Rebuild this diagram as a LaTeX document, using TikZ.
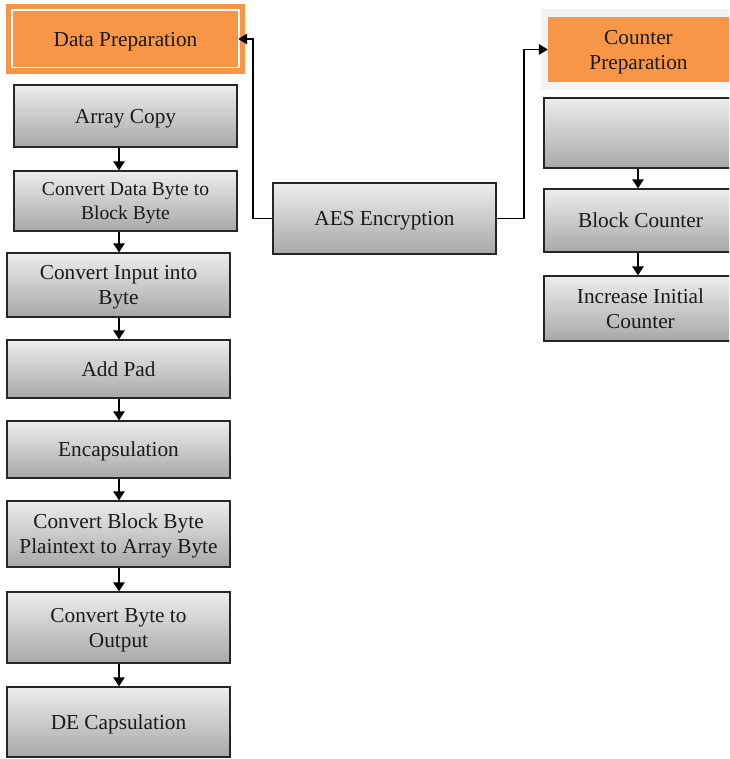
\documentclass[tikz,border=0pt]{standalone}
\usepackage{fontspec}
\setmainfont{Liberation Serif}
\usetikzlibrary{arrows.meta,shadows}
\definecolor{orng}{HTML}{F79646}
\definecolor{gtop}{HTML}{EDEDED}
\definecolor{gbot}{HTML}{A8A8A8}
\definecolor{txt}{HTML}{1A1A1A}
\definecolor{cpbg}{HTML}{F3F3F3}
\begin{document}
\begin{tikzpicture}[x=1pt,y=-1pt,
  box/.style={draw=black!85, line width=1.2pt, top color=gtop, bottom color=gbot,
    text=txt, font=\fontsize{21.3}{25}\selectfont, align=center, inner sep=0pt,
    text depth=0pt,
    drop shadow={shadow xshift=1.2pt,shadow yshift=-1.2pt,fill=black!40,opacity=.5}},
  obox/.style={fill=orng, draw=none, text=txt, font=\fontsize{21.3}{25}\selectfont,
    align=center, inner sep=0pt, text depth=0pt},
  arr/.style={line width=2.3pt, -{Triangle[length=9pt,width=11pt]}},
  conn/.style={line width=1.9pt, -{Triangle[length=9pt,width=10.5pt]}},
]
\clip (0,0) rectangle (729,759);
\fill[white] (0,0) rectangle (729,759);
\coordinate (lx) at (119,0);
\coordinate (rx) at (638,0);
\coordinate (lcx) at (253,0);
\coordinate (rcx) at (524,0);
% Data Preparation
\node[obox, minimum width=239pt, minimum height=70pt] (dp) at (125.5,39) {Data Preparation};
\draw[white, line width=1.6pt] ([shift={(6pt,-6.5pt)}]dp.north west) rectangle ([shift={(-6pt,6.5pt)}]dp.south east);
% left column
\node[box, minimum width=223pt, minimum height=62pt] (a1) at (125.5,116) {Array Copy};
\node[box, minimum width=223pt, minimum height=60pt, font=\fontsize{19.6}{24}\selectfont] (a2) at (125.5,201) {Convert Data Byte to\\Block Byte};
\node[box, minimum width=223pt, minimum height=64pt] (a3) at (118.5,285) {Convert Input into\\Byte};
\node[box, minimum width=223pt, minimum height=58pt] (a4) at (118.5,369) {Add Pad};
\node[box, minimum width=223pt, minimum height=57pt] (a5) at (118.5,449.5) {Encapsulation};
\node[box, minimum width=223pt, minimum height=66pt] (a6) at (118.5,534) {Convert Block Byte\\Plaintext to Array Byte};
\node[box, minimum width=223pt, minimum height=71pt] (a7) at (118.5,627.5) {Convert Byte to\\Output};
\node[box, minimum width=223pt, minimum height=70pt] (a8) at (118.5,722) {DE Capsulation};
\draw[arr] (a1.south -| lx) -- (a2.north -| lx);
\draw[arr] (a2.south -| lx) -- (a3.north -| lx);
\draw[arr] (a3.south -| lx) -- (a4.north -| lx);
\draw[arr] (a4.south -| lx) -- (a5.north -| lx);
\draw[arr] (a5.south -| lx) -- (a6.north -| lx);
\draw[arr] (a6.south -| lx) -- (a7.north -| lx);
\draw[arr] (a7.south -| lx) -- (a8.north -| lx);
% AES
\node[box, minimum width=223pt, minimum height=71pt] (aes) at (384.5,218.5) {AES Encryption};
% Counter Preparation
\fill[cpbg] (541,9) rectangle (740,90);
\node[obox, minimum width=181pt, minimum height=65pt] (cp) at (638.5,49.5) {Counter\\Preparation};
% right column
\node[box, minimum width=193pt, minimum height=70pt] (b1) at (640.5,133) {};
\node[box, minimum width=193pt, minimum height=63pt] (b2) at (640.5,220.5) {Block Counter};
\node[box, minimum width=193pt, minimum height=65pt] (b3) at (640.5,308.5) {Increase Initial\\Counter};
\draw[arr] (b1.south -| rx) -- (b2.north -| rx);
\draw[arr] (b2.south -| rx) -- (b3.north -| rx);
% connectors from AES
\draw[conn] (aes.west) -- (aes.west -| lcx) |- ([xshift=-7pt]dp.east);
\draw[conn] (aes.east) -- (aes.east -| rcx) |- (cp.west);
\end{tikzpicture}
\end{document}
